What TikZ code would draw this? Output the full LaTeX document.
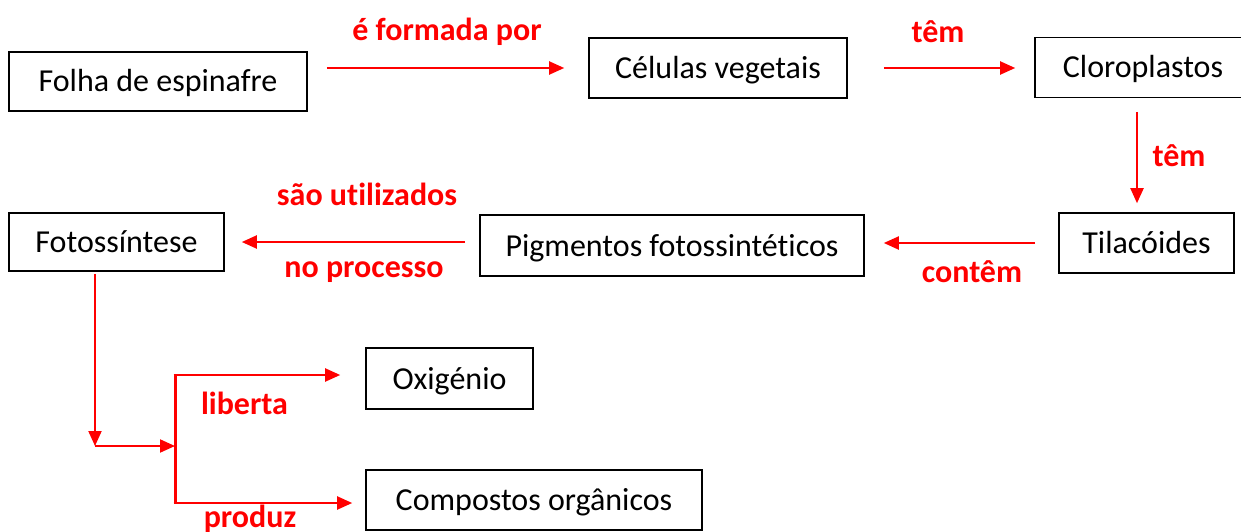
\documentclass[tikz,border=0pt]{standalone}
\usepackage{fontspec}
\setmainfont[Ligatures=CommonOff]{Carlito}
\usetikzlibrary{arrows.meta}

\tikzset{
	box/.style={draw, line width=1.6pt, inner sep=0pt, text height=21pt, text depth=0pt, font=\fontsize{32}{38}\selectfont},
	lbl/.style={red, font=\fontsize{32}{38}\selectfont\bfseries},
	link/.style={-{Triangle[length=15pt,width=13pt]}, red, line width=2pt}
}

\begin{document}
\begin{tikzpicture}[x=1pt, y=-1pt]
	\useasboundingbox (0,0) rectangle (1241,532);

	% concept boxes
	\node[box, minimum width=298, minimum height=59] (folha) at (158,81.5) {Folha de espinafre};
	\node[box, minimum width=258, minimum height=60] (cel) at (718,68) {Células vegetais};
	\node[box, minimum width=216, minimum height=60] (cloro) at (1143,67.5) {Cloroplastos};
	\node[box, minimum width=175, minimum height=60] (tila) at (1146.5,243) {Tilacóides};
	\node[box, minimum width=384, minimum height=61] (pigm) at (672,245.5) {Pigmentos fotossintéticos};
	\node[box, minimum width=215, minimum height=58] (foto) at (116.5,242) {Fotossíntese};
	\node[box, minimum width=167, minimum height=61] (oxig) at (449.5,378.5) {Oxigénio};
	\node[box, minimum width=336, minimum height=60] (comp) at (534,500) {Compostos orgânicos};

	% link words
	\node[lbl] (l1) at (447,32) {é formada por};
	\node[lbl] (l2) at (938,32) {têm};
	\node[lbl] (l3) at (1179,156) {têm};
	\node[lbl] (l4) at (972,272) {contêm};
	\node[lbl] (l5) at (367,194) {são utilizados};
	\node[lbl] (l6) at (364,272) {no processo};
	\node[lbl] (l7) at (244.5,403) {liberta};
	\node[lbl] (l8) at (250,519) {produz};

	% branch points
	\coordinate (bend) at (95,446);
	\coordinate (fork) at (175,446);
	\coordinate (forktop) at (175,375);
	\coordinate (forkbot) at (175,503);

	\draw [link, shorten <=19pt, shorten >=24pt] (folha.east |- cel.west) -- (cel.west);
	\draw [link, shorten <=36pt, shorten >=19pt] (cel.east) -- (cloro.west |- cel.east);
	\draw [link, shorten <=13.5pt, shorten >=9pt] ([xshift=-6pt]cloro.south) -- ([xshift=-6pt]cloro.south |- tila.north);
	\draw [link, shorten <=23pt, shorten >=19pt] (tila.west) -- (pigm.east |- tila.west);
	\draw [link, shorten <=14pt, shorten >=17pt] (pigm.west |- foto.east) -- (foto.east);
	\draw [link, shorten <=2pt] (foto.south -| bend) -- (bend);
	\draw [link] (bend) -- (fork);
	\draw [red, line width=3pt] (forktop) -- (forkbot);
	\draw [link, shorten >=25pt] ([xshift=-1.5pt]forktop) -- (forktop -| oxig.west);
	\draw [link, shorten >=13pt] ([xshift=-1.5pt]forkbot) -- (forkbot -| comp.west);
\end{tikzpicture}
\end{document}
